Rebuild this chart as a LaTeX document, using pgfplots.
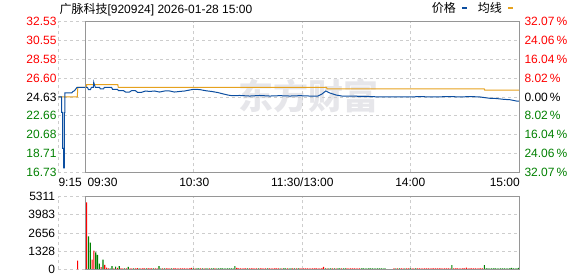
\documentclass[border=0pt]{standalone}
\usepackage{pgfplots}
\usepackage{pgfplotstable}
\pgfplotsset{compat=1.18}
\usepackage{fontspec}
\setmainfont{Liberation Sans}
\newfontfamily\cjk{Noto Sans CJK SC}
\definecolor{upred}{RGB}{255,0,0}
\definecolor{dngreen}{RGB}{0,128,0}
\definecolor{priceblue}{RGB}{12,78,160}
\definecolor{avgyellow}{RGB}{230,162,30}
\definecolor{framegray}{RGB}{150,150,150}
\definecolor{gridgray}{RGB}{205,205,205}
\definecolor{wm}{RGB}{230,230,234}
\newcommand\lab{\fontsize{12bp}{14bp}\selectfont}

\pgfplotstableread{
m v
-4 630
1 4900
4 700
5 1370
9 150
11 320
12 120
13 75
16 75
18 100
20 75
21 75
23 75
25 75
26 75
28 75
29 90
31 75
32 75
33 75
35 80
36 75
37 75
39 75
40 75
43 75
45 75
46 75
47 75
49 75
50 75
51 75
52 75
53 75
54 75
55 75
56 75
57 75
58 75
59 110
61 75
64 75
66 75
69 75
72 75
84 100
85 75
86 75
87 75
88 75
89 75
91 75
92 75
93 75
94 75
95 75
97 75
98 75
99 75
100 75
102 75
103 75
104 75
105 75
106 75
107 75
109 75
112 75
115 75
117 75
119 75
120 75
121 75
122 75
123 75
124 75
125 75
126 75
127 75
128 75
129 75
130 75
131 75
132 170
134 75
137 75
139 75
142 75
145 75
146 75
147 75
148 75
149 75
150 75
151 75
152 75
171 75
173 75
175 75
176 75
178 75
179 75
181 75
182 75
184 75
185 75
186 75
187 75
188 75
189 75
190 75
191 75
192 75
193 75
194 75
195 75
196 75
197 75
198 75
199 75
200 75
201 75
202 75
204 75
205 75
206 75
207 75
208 75
209 75
210 75
211 120
212 75
213 75
214 75
215 75
216 75
217 75
218 75
219 75
220 75
}\redvol

\pgfplotstableread{
m v
2 2400
3 1950
6 1240
7 1060
8 410
10 700
14 75
15 240
17 200
19 240
22 75
24 180
27 75
30 75
34 75
38 75
41 240
42 75
44 75
48 75
60 75
62 75
63 75
65 75
67 75
68 75
70 75
71 75
73 75
74 75
75 75
76 75
77 75
78 75
79 75
80 75
81 75
82 75
83 240
90 75
96 75
101 75
108 75
110 75
111 75
113 75
114 75
116 75
118 75
133 75
135 75
136 75
138 75
140 75
141 75
143 75
144 75
153 75
154 75
155 75
156 75
157 75
158 75
159 75
160 75
161 75
162 75
163 75
164 75
165 75
166 75
172 75
174 75
177 75
180 75
183 75
203 310
221 310
222 75
223 75
224 75
225 75
226 75
227 75
228 75
229 75
230 75
231 75
232 75
233 75
234 75
235 75
236 100
237 75
238 75
239 75
240 100
}\greenvol

\begin{document}
\begin{tikzpicture}
\path[use as bounding box] (0bp,0bp) rectangle (578bp,276bp);
% watermark
\node[text=wm, font=\cjk\bfseries\fontsize{35bp}{35bp}\selectfont, anchor=center, inner sep=0pt] at (308bp,180.5bp) {东方财富};

% title and legend
\node[anchor=base west, inner sep=0pt, font=\lab] at (59.3bp,262.7bp) {{\cjk 广脉科技}[920924] 2026-01-28 15:00};
\node[anchor=base west, inner sep=0pt, font=\cjk\lab] at (431.7bp,263.2bp) {价格};
\fill[priceblue] (462.3bp,266.7bp) rectangle (466.7bp,269.3bp);
\node[anchor=base west, inner sep=0pt, font=\cjk\lab] at (477.7bp,263.2bp) {均线};
\fill[avgyellow] (508.3bp,266.7bp) rectangle (512.7bp,269.3bp);

% price panel
\begin{axis}[
  at={(58.3bp,103.7bp)}, anchor=south west, scale only axis,
  width=461bp, height=150.6bp,
  xmin=-15, xmax=240, ymin=16.73, ymax=32.53,
  axis line style={draw=none}, major tick length=0pt,
  xtick={-15,60,120,180}, xticklabels={{},{},{},{}},
  ytick={16.73,18.71,20.68,22.66,24.63,26.60,28.58,30.55,32.53},
  yticklabels={\textcolor{dngreen}{16.73},\textcolor{dngreen}{18.71},\textcolor{dngreen}{20.68},\textcolor{dngreen}{22.66},\textcolor{black}{24.63},\textcolor{upred}{26.60},\textcolor{upred}{28.58},\textcolor{upred}{30.55},\textcolor{upred}{32.53}},
  yticklabel style={font=\lab, anchor=east, inner sep=0pt, xshift=-1.6bp},
  grid=major, major grid style={gridgray, dash pattern=on 3bp off 3bp, line width=0.8bp},
  clip mode=individual,
]
\addplot[avgyellow, line width=1bp] coordinates {
(-15,24.63)(-4.5,24.63)(-4.2,25.65)(0.4,25.65)(0.7,25.93)(17.9,25.93)(18.2,25.63)(133.4,25.63)(133.7,25.47)(220.6,25.47)(220.9,25.34)(240,25.34)};
\addplot[priceblue, line width=1bp] coordinates {
(-15,24.63)(-13.2,24.63)(-13.2,23.02)(-12.6,23.02)(-12.6,19.25)(-12.0,19.25)(-12.0,17.2)(-11.6,17.2)(-11.6,23.0)(-11.3,23.0)(-11.3,25.05)(-7.6,25.05)(-7.0,25.19)(-6.0,25.3)(-5.0,25.55)(-4.6,25.65)(0,25.65)(1.1,25.65)(1.7,25.40)(2.8,25.40)(3.3,25.65)(4.4,25.65)(4.6,26.17)(5.0,25.89)(5.5,25.65)(7.8,25.65)(8.3,25.47)(10.0,25.47)(10.5,25.65)(14.4,25.65)(15.0,25.44)(17.7,25.44)(18.3,25.29)(21.1,25.29)(22.2,25.15)(24.4,25.15)(25.5,25.29)(27.7,25.29)(28.8,25.12)(31.0,25.12)(33.3,25.26)(35.5,25.21)(38.2,25.26)(41.0,25.15)(43.8,25.26)(46.6,25.26)(49.3,25.15)(52.1,25.21)(54.9,25.26)(57.6,25.36)(59.9,25.44)(63.2,25.41)(66.5,25.29)(69.8,25.21)(73.2,25.10)(75.4,24.99)(78.7,24.84)(80.9,24.77)(85.4,24.79)(90.9,24.73)(96.4,24.79)(102.0,24.73)(107.5,24.77)(113.1,24.73)(118.6,24.77)(124.2,24.73)(128.6,24.73)(130.8,24.94)(133.0,25.26)(135.2,25.05)(138.6,24.84)(141.9,24.73)(146.3,24.73)(151.9,24.70)(157.4,24.68)(163.0,24.63)(168.5,24.65)(174.1,24.63)(179.6,24.63)(185.1,24.68)(190.7,24.63)(196.2,24.65)(201.8,24.68)(207.3,24.63)(212.9,24.68)(218.4,24.63)(220.6,24.57)(223.9,24.49)(227.3,24.47)(231.1,24.39)(235.0,24.34)(238.4,24.21)(240,24.21)};
\draw[framegray, line width=1bp] (axis cs:0,16.73) rectangle (axis cs:240,32.53);
\end{axis}

% right percent labels
\begin{axis}[
  at={(58.3bp,103.7bp)}, anchor=south west, scale only axis,
  width=461bp, height=150.6bp,
  xmin=-15, xmax=240, ymin=-32.07, ymax=32.07,
  hide x axis, axis y line*=right, axis line style={draw=none}, major tick length=0pt,
  ytick={-32.07,-24.06,-16.04,-8.02,0,8.02,16.04,24.06,32.07},
  yticklabels={\textcolor{dngreen}{32.07\,\%},\textcolor{dngreen}{24.06\,\%},\textcolor{dngreen}{16.04\,\%},\textcolor{dngreen}{8.02\,\%},\textcolor{black}{0.00\,\%},\textcolor{upred}{8.02\,\%},\textcolor{upred}{16.04\,\%},\textcolor{upred}{24.06\,\%},\textcolor{upred}{32.07\,\%}},
  yticklabel style={font=\lab, anchor=west, inner sep=0pt, xshift=5bp},
]
\addplot[draw=none] coordinates {(0,0)};
\end{axis}

% volume panel
\begin{axis}[
  at={(58.3bp,6.7bp)}, anchor=south west, scale only axis,
  width=461bp, height=72.6bp,
  xmin=-15, xmax=240, ymin=0, ymax=5311,
  axis line style={draw=none}, major tick length=0pt,
  xtick={-15,60,120,180}, xticklabels={{},{},{},{}},
  ytick={0,1328,2656,3983,5311},
  yticklabels={0,1328,2656,3983,5311},
  yticklabel style={font=\lab, anchor=east, inner sep=0pt, xshift=-3bp},
  grid=major, major grid style={gridgray, dash pattern=on 3bp off 3bp, line width=0.8bp},
  clip mode=individual,
]
\addplot[ybar, bar width=1.1bp, fill=upred, draw=none] table[x expr=\thisrow{m}-0.3, y=v] {\redvol};
\addplot[ybar, bar width=1.1bp, fill=dngreen, draw=none] table[x expr=\thisrow{m}-0.3, y=v] {\greenvol};
\draw[framegray, line width=1bp] (axis cs:0,0) rectangle (axis cs:240,5311);
\end{axis}

% time labels
\node[anchor=base west, inner sep=0pt, font=\lab] at (58.3bp,89.3bp) {9:15};
\node[anchor=base west, inner sep=0pt, font=\lab] at (87.3bp,89.3bp) {09:30};
\node[anchor=base, inner sep=0pt, font=\lab] at (194.3bp,89.3bp) {10:30};
\node[anchor=base, inner sep=0pt, font=\lab] at (302.3bp,89.3bp) {11:30/13:00};
\node[anchor=base, inner sep=0pt, font=\lab] at (410.3bp,89.3bp) {14:00};
\node[anchor=base east, inner sep=0pt, font=\lab] at (520bp,89.3bp) {15:00};
\end{tikzpicture}
\end{document}
